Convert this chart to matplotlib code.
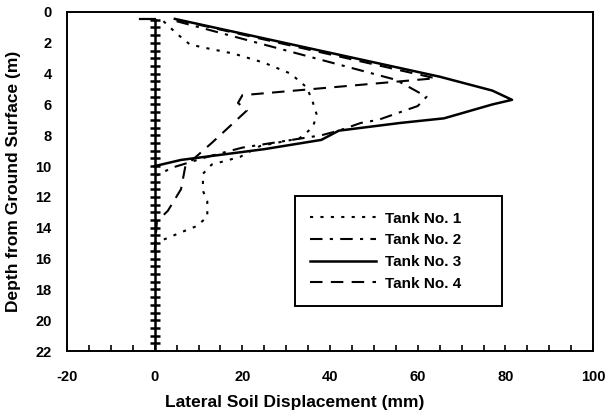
import matplotlib
matplotlib.use("Agg")
import matplotlib.pyplot as plt
from matplotlib.ticker import MultipleLocator

plt.rcParams['font.family'] = ['Liberation Sans', 'DejaVu Sans']
plt.rcParams['font.weight'] = 'bold'
plt.rcParams['axes.unicode_minus'] = False

# lateral soil displacement (mm) vs depth (m)
tank1_x = [2, 5, 8, 11, 18, 25, 31, 34.7, 36, 37, 36, 33, 24, 19.5, 13, 11, 11, 12, 12, 9.5, 6, 3.5, 0]
tank1_d = [0.6, 1.4, 2.1, 2.3, 2.7, 3.3, 4.0, 4.9, 5.8, 6.7, 7.5, 8.2, 8.7, 9.4, 9.9, 10.5, 11.6, 12.3, 13.3, 13.9, 14.3, 14.6, 15.0]

tank2_x = [5, 55, 62, 60, 56, 51, 47, 42, 38, 20, 12, 4, 0.5]
tank2_d = [0.6, 4.4, 5.5, 6.1, 6.5, 7.0, 7.2, 7.7, 8.0, 8.8, 9.4, 10.1, 10.6]

tank3_x = [4.6, 65, 77, 81.5, 77, 66, 56, 42, 38, 25, 6, 0]
tank3_d = [0.45, 4.2, 5.1, 5.7, 6.0, 6.9, 7.2, 7.7, 8.3, 8.9, 9.6, 10.0]

tank4_x = [5, 64, 20, 19, 21, 13, 7, 6, 3, 0.5, 0]
tank4_d = [0.5, 4.3, 5.4, 5.9, 6.4, 8.5, 10.0, 11.5, 12.9, 13.6, 15.5]

# pile nodes along x = 0
pile_d = [0.5, 1.0, 1.5, 2.0, 2.5, 3.0, 3.5, 4.0, 4.5, 5.0, 5.5, 6.0, 6.5, 7.0, 7.5,
          8.0, 8.5, 9.0, 9.5, 10.0, 10.5, 11.0, 11.5, 12.0, 12.5, 13.0, 13.5, 14.0,
          14.5, 15.0, 15.5, 16.0, 16.5, 17.0, 17.5, 18.0, 18.5, 19.0, 19.5, 20.0,
          20.5, 21.0, 21.5, 22.0]
pile_x = [0] * len(pile_d)
head_x = [-3.3, 0]
head_d = [0.45, 0.45]

fig = plt.figure(figsize=(6.09, 4.13), dpi=100)
ax = fig.add_axes([0.110, 0.150, 0.864, 0.821])

lw = 1.5
ax.plot(pile_x, pile_d, color='black', lw=1.8, marker='_', markersize=7.5, mew=1.8)
ax.plot(head_x, head_d, color='black', lw=1.6)

ax.plot(tank1_x, tank1_d, color='black', lw=lw, linestyle=(0, (1.5, 3.5)), label='Tank No. 1')
ax.plot(tank2_x, tank2_d, color='black', lw=lw, linestyle=(0, (6, 3.5, 1.5, 3.5)), label='Tank No. 2')
ax.plot(tank3_x, tank3_d, color='black', lw=lw + 0.3, linestyle='-', label='Tank No. 3')
ax.plot(tank4_x, tank4_d, color='black', lw=lw, linestyle=(0, (6, 4)), label='Tank No. 4')

ax.set_xlim(-20, 100)
ax.set_ylim(22, 0)
ax.xaxis.set_major_locator(MultipleLocator(20))
ax.xaxis.set_minor_locator(MultipleLocator(5))
ax.yaxis.set_major_locator(MultipleLocator(2))
ax.tick_params(axis='x', which='both', direction='in', length=4, width=1.2, labelsize=10.5, pad=14)
ax.tick_params(axis='y', which='both', length=0, labelsize=10.5, pad=11)
for s in ax.spines.values():
    s.set_linewidth(1.4)

ax.set_xlabel('Lateral Soil Displacement (mm)', fontsize=12.5, fontweight='bold')
ax.set_ylabel('Depth from Ground Surface (m)', fontsize=12.5, fontweight='bold')
ax.xaxis.set_label_coords(0.433, -0.13)
ax.yaxis.set_label_coords(-0.088, 0.5)

leg = ax.legend(loc='lower left', bbox_to_anchor=(0.433, 0.133, 0.394, 0.336), mode='expand',
                fontsize=11, frameon=True, fancybox=False, framealpha=1, edgecolor='black',
                handlelength=4.3, handletextpad=0.6, labelspacing=0.5, borderpad=1.0,
                borderaxespad=0)
leg.get_frame().set_linewidth(1.4)

fig.savefig('out.png', dpi=100)
